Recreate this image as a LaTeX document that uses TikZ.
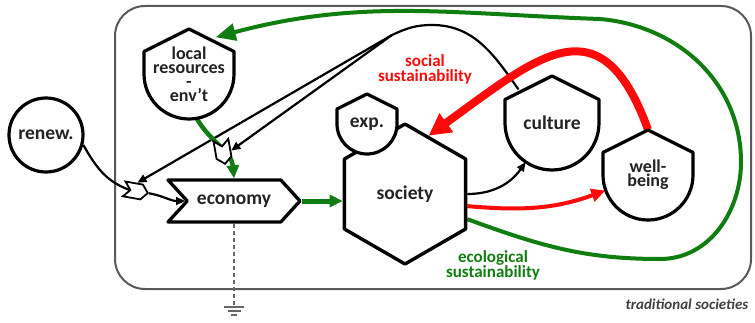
\documentclass[tikz,border=0pt]{standalone}
\usepackage{fontspec}
\setmainfont{Carlito}
\usetikzlibrary{arrows.meta,shapes.geometric,shapes.symbols}
\pgfdeclarelayer{back}
\pgfsetlayers{back,main}
\definecolor{ecogreen}{RGB}{16,125,16}
\definecolor{socred}{RGB}{255,10,10}
\definecolor{txt}{RGB}{35,35,35}
\newcommand\nodefont{\fontsize{19.5}{14}\selectfont\bfseries}
\newcommand\stackfont{\fontsize{18}{15}\selectfont\bfseries}
\newcommand\tagfont{\fontsize{17}{15}\selectfont\bfseries}
\newcommand\capnode[4]{% name, centre, radius, text
  \draw[capline] (#2) ++(-#3,0) -- ++(0,#3/2) -- ++(#3,#3/2) -- ++(#3,-#3/2) -- ++(0,-#3/2)
    arc[start angle=0,end angle=-180,radius=#3] -- cycle;
  \node[capshape,minimum size=2*#3] (#1) at (#2) {#4};}
\begin{document}
\begin{tikzpicture}[x=1pt,y=1pt,
       thick,
       capline/.style={line width=3.2pt,fill=white,line join=round},
       capshape/.style={circle,inner sep=0pt,font=\nodefont,align=center,text=txt},
       hexnode/.style={
         regular polygon,
         regular polygon sides=6,
         shape border rotate=30,
         minimum size=140pt,
         inner sep=0pt,
         draw,
         line width=3.4pt,
         fill=white,
         line join=round,
         font=\nodefont,
         text=txt
       },
       flownode/.style={signal,signal to=east,signal from=west,signal pointer angle=95,
         draw,line width=3.3pt,fill=white,line join=round,inner sep=0pt,font=\nodefont,text=txt},
       valve/.style={signal,signal to=east,signal from=west,signal pointer angle=100,
         draw,line width=1.8pt,fill=white,inner sep=0pt,minimum width=24pt,minimum height=15pt},
       source/.style={circle,draw,line width=3.2pt,fill=white,minimum size=74pt,inner sep=0pt,
         font=\nodefont,text=txt},
       frame/.style={draw=black!65,line width=2pt,rounded corners=30pt},
       conn/.style={line width=2.2pt},
       link/.style={conn,-{Triangle[length=9pt,width=8pt]}},
       ecolink/.style={ecogreen,line width=4.5pt,-{Triangle[length=13pt,width=12pt]}},
       soclink/.style={socred,line width=4pt,-{Triangle[length=14pt,width=13pt]}},
       tag/.style={font=\tagfont,align=center},
       earth/.style={draw=black!60,line width=1.3pt}
     ]

       \useasboundingbox (0,0) rectangle (755,322);

       \node[source] (renew) at (46,187) {renew.};
       \node[hexnode] (soc) at (405,128) {society};
       \capnode{exp}{367,198}{30}{exp.}
       \capnode{local}{189,248}{45}{\stackfont local\\\stackfont resources\\\stackfont -\\\stackfont env’t}
       \capnode{cult}{552,199}{47}{culture}
       \capnode{wb}{648,147}{45}{\stackfont well-\\\stackfont being}
       \node[flownode,minimum width=132pt,minimum height=42pt] (econ) at (234,121) {economy};
       \node[valve,rotate=-10] (lvalve) at (136,131) {};
       \node[valve,rotate=-80] (uvalve) at (223,170) {};

       \coordinate (top) at (432,297);
       \coordinate (split) at (392,287);
       \coordinate (ground) at (234,15);

       \node[tag,text=socred] (soclab) at (425,253) {social\\sustainability};
       \node[tag,text=ecogreen] (ecolab) at (493,57) {ecological\\sustainability};
       \node[anchor=east,font=\fontsize{15}{15}\selectfont\bfseries\itshape,text=black!75] (caption) at (752,18) {traditional societies};

       \begin{pgfonlayer}{back}
       \draw[frame] (115,33) rectangle (751,316);

       \draw[conn] (renew.-15) to[out=-60,in=160] (lvalve.west);
       \draw[link] (lvalve.east) to[out=-10,in=180] (econ.west);
       \draw[conn] (cult.north west) to[out=125,in=0] (top) to[out=180,in=25] (split);
       \draw[link] (split) -- (lvalve.north);
       \draw[link] (split) -- (uvalve.north);
       \draw[ecolink] (local.-80) to[out=-60,in=95] (econ.north);
       \draw[ecolink,line width=5pt] (econ.east) -- (soc.west |- econ.east);
       \draw[link] (soc.east) to[out=0,in=-125] (cult.-124);
       \draw[soclink] (soc.-11) to[out=-5,in=200] (wb.200);
       \draw[soclink,line width=8pt,-{Triangle[length=22pt,width=22pt]}] (wb.north) to[out=110,in=36,looseness=1.6] (soc.68);
       \draw[ecolink,line width=4pt,-{Triangle[length=20pt,width=17pt]}] (soc.-22) to[out=-20,in=180] (660,63)
         to[out=0,in=-90] (741,160) to[out=90,in=-5] (600,303) to[out=178,in=15] (local.54);

       \draw[earth,dash pattern=on 4pt off 3pt] (econ.south) -- (ground);
       \end{pgfonlayer}
       \draw[earth] (ground) ++(-10,0) -- ++(20,0);
       \draw[earth] (ground) ++(-6.5,-4) -- ++(13,0);
       \draw[earth] (ground) ++(-3,-8) -- ++(6,0);

\end{tikzpicture}
\end{document}
